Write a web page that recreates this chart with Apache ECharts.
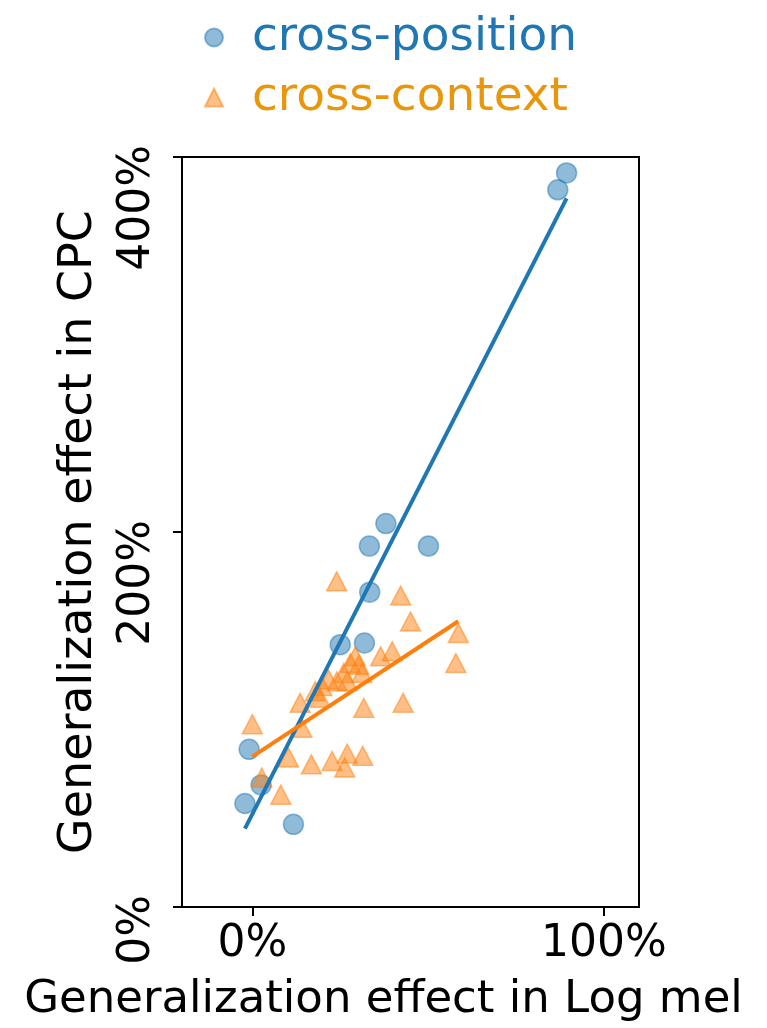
<!DOCTYPE html>
<html>
<head>
<meta charset="utf-8">
<script src="https://cdn.jsdelivr.net/npm/echarts@6/dist/echarts.min.js"></script>
<style>
  html, body { margin: 0; padding: 0; background: #fff; }
  #chart { width: 767px; height: 1028px; }
</style>
</head>
<body>
<div id="chart"></div>
<script>
// Generalization effect (%) measured on Log mel features (x) vs. CPC features (y)
const positionLogMel = [89.4, 86.9, 38.0, 33.3, 50.1, 33.4, 25.0, 31.9, -0.9, 2.5, -2.1, 11.7];
const positionCPC    = [391.5, 382.5, 204.5, 192.5, 192.5, 167.9, 139.9, 140.8, 84.1, 65.1, 55.2, 44.1];

const contextLogMel = [24.0, 42.2, 45.0, 58.6, 57.9, 36.5, 39.8, 42.9, 0.0, 14.1,
                       10.3, 16.8, 22.7, 27.0, 26.3, 31.4, 2.7, 8.1,
                       29.3, 27.9, 30.3, 26.0, 31.2, 21.7, 24.1, 27.0, 19.8, 17.9, 19.3, 13.6, 31.7];
const contextCPC    = [173.7, 166.1, 152.3, 146.1, 130.1, 133.7, 136.4, 108.9, 97.5, 95.6,
                       79.7, 76.1, 77.9, 81.8, 74.4, 80.6, 69.0, 59.9,
                       133.7, 130.1, 129.2, 124.8, 124.8, 121.3, 120.4, 120.4, 117.8, 115.1, 111.6, 108.9, 106.2];

const seriesNames = ['cross-position', 'cross-context'];
const xTicks = [0, 100];
const yTicks = [0, 200, 400];

const BLUE = '#1f77b4';
const ORANGE = '#ff7f0e';
const FONT = 'DejaVu Sans';

// Least-squares fit over the data's x range
function fitLine(xs, ys) {
  const n = xs.length;
  const mx = xs.reduce((a, b) => a + b, 0) / n;
  const my = ys.reduce((a, b) => a + b, 0) / n;
  let sxy = 0, sxx = 0;
  for (let i = 0; i < n; i++) {
    sxy += (xs[i] - mx) * (ys[i] - my);
    sxx += (xs[i] - mx) * (xs[i] - mx);
  }
  const slope = sxy / sxx;
  const icpt = my - slope * mx;
  const lo = Math.min(...xs), hi = Math.max(...xs);
  return [[lo, icpt + slope * lo], [hi, icpt + slope * hi]];
}

const zip = (xs, ys) => xs.map((x, i) => [x, ys[i]]);

const chart = echarts.init(document.getElementById('chart'), null, { renderer: 'canvas' });

chart.setOption({
  backgroundColor: '#fff',
  animation: false,
  textStyle: { fontFamily: FONT },
  legend: {
    orient: 'vertical',
    left: 199,
    top: 9,
    itemGap: 13,
    itemWidth: 18,
    itemHeight: 18,
    textStyle: { fontSize: 47, fontFamily: FONT, padding: [0, 0, 0, 24] },
    data: [
      { name: seriesNames[0], icon: 'circle', textStyle: { color: BLUE } },
      { name: seriesNames[1], icon: 'triangle', textStyle: { color: '#e8970c' } }
    ]
  },
  grid: {
    left: 182, top: 157, width: 457, height: 753,
    show: true, borderColor: '#000', borderWidth: 2, backgroundColor: '#fff'
  },
  xAxis: {
    type: 'value',
    min: -20, max: 110,
    splitLine: { show: false },
    axisLine: { show: true, onZero: false, lineStyle: { color: '#000', width: 2 } },
    axisTick: { show: true, customValues: xTicks, length: 9, lineStyle: { color: '#000', width: 2 } },
    axisLabel: {
      customValues: xTicks, formatter: '{value}%',
      fontSize: 44, color: '#000', fontFamily: FONT, margin: 16
    },
    name: 'Generalization effect in Log mel',
    nameLocation: 'middle',
    nameGap: 71,
    nameTextStyle: { fontSize: 45, color: '#000', fontFamily: FONT, padding: [0, 54, 0, 0] }
  },
  yAxis: {
    type: 'value',
    min: 0, max: 400, interval: 200,
    splitLine: { show: false },
    axisLine: { show: true, onZero: false, lineStyle: { color: '#000', width: 2 } },
    axisTick: { show: true, length: 9, lineStyle: { color: '#000', width: 2 } },
    axisLabel: {
      customValues: yTicks, formatter: '{value}%',
      rotate: 90, align: 'right', verticalAlign: 'bottom',
      padding: [0, -12, 0, 0],
      fontSize: 44, color: '#000', fontFamily: FONT, margin: 22
    },
    name: 'Generalization effect in CPC',
    nameLocation: 'middle',
    nameRotate: 90,
    nameGap: 80,
    nameTextStyle: { fontSize: 46, color: '#000', fontFamily: FONT }
  },
  series: [
    {
      name: seriesNames[0], type: 'scatter', symbol: 'circle', symbolSize: 20,
      itemStyle: { color: 'rgba(31,119,180,0.5)', borderColor: 'rgba(31,119,180,0.5)', borderWidth: 1.5, opacity: 1 },
      data: zip(positionLogMel, positionCPC), z: 2
    },
    {
      name: seriesNames[1], type: 'scatter', symbol: 'triangle', symbolSize: [20, 19],
      itemStyle: { color: 'rgba(255,127,14,0.5)', borderColor: 'rgba(255,127,14,0.5)', borderWidth: 1.5, opacity: 1 },
      data: zip(contextLogMel, contextCPC), z: 2
    },
    {
      name: 'fit-position', type: 'line', showSymbol: false, symbol: 'none',
      lineStyle: { color: BLUE, width: 4 }, itemStyle: { color: BLUE },
      data: fitLine(positionLogMel, positionCPC), z: 3, silent: true
    },
    {
      name: 'fit-context', type: 'line', showSymbol: false, symbol: 'none',
      lineStyle: { color: ORANGE, width: 4 }, itemStyle: { color: ORANGE },
      data: fitLine(contextLogMel, contextCPC), z: 3, silent: true
    }
  ]
});
</script>
</body>
</html>
